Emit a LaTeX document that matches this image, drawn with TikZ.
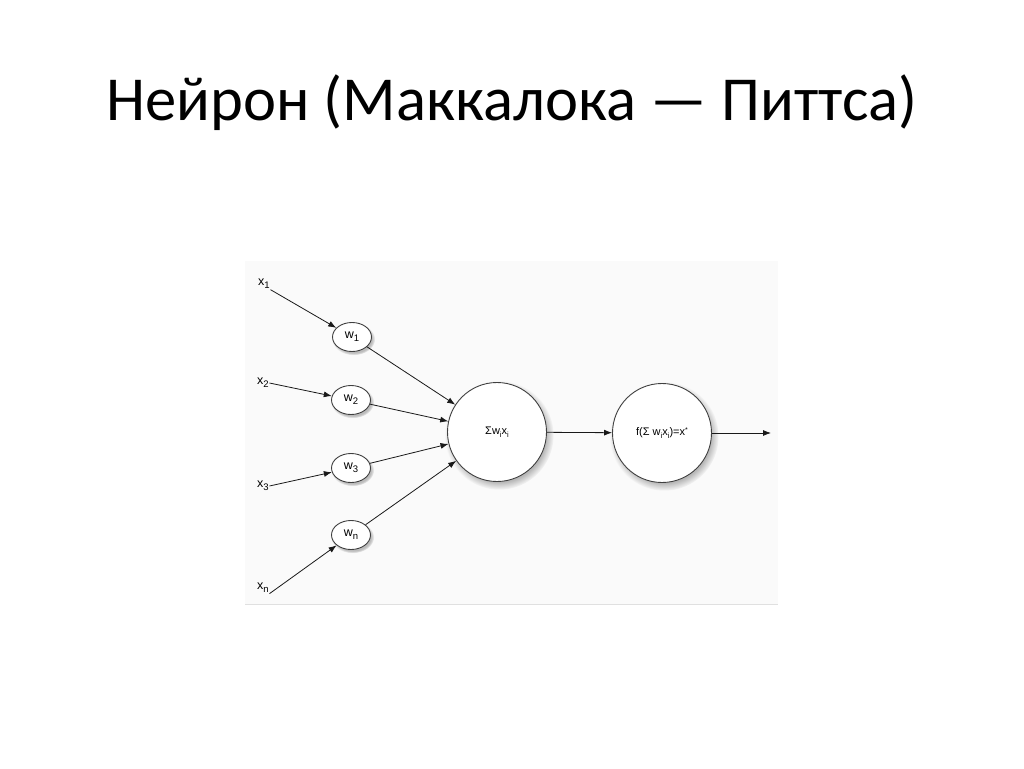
\documentclass[tikz,border=0pt]{standalone}
\usepackage{fontspec}
\setmainfont{Carlito}
\newfontfamily\diagfont{Liberation Sans}
\usetikzlibrary{arrows.meta, shapes.geometric, shadows}
\newcommand\lowidx[1]{\raisebox{-0.5ex}{\fontsize{9.5}{9.5}\selectfont #1}}
\newcommand\lowsmall[1]{\raisebox{-0.45ex}{\fontsize{7.5}{7.5}\selectfont #1}}
\tikzset{
  weightnode/.style={draw=black!75, line width=0.9pt, ellipse, fill=white,
    minimum width=39pt, minimum height=29pt, inner sep=0pt,
    circular drop shadow={shadow xshift=1.5pt, shadow yshift=-2pt, opacity=0.5},
    font=\diagfont\fontsize{12.5}{12.5}\selectfont},
  unitnode/.style={draw=black!75, line width=0.9pt, circle, fill=white,
    minimum size=99pt, inner sep=0pt,
    circular drop shadow={shadow xshift=2pt, shadow yshift=-3pt, opacity=0.55},
    font=\diagfont\fontsize{11}{11}\selectfont},
  inlabel/.style={inner sep=0.5pt, font=\diagfont\fontsize{12.5}{12.5}\selectfont},
  signal/.style={-{Latex[length=8pt,width=6pt]}, draw=black!90, line width=0.8pt},
}
\begin{document}
\begin{tikzpicture}[x=1pt, y=-1pt]
\useasboundingbox (0,0) rectangle (1024,768);
\fill[white] (0,0) rectangle (1024,768);
% picture area
\fill[black!2] (245,261) rectangle (778,604);
\draw[black!12, line width=0.8pt] (245,604) -- (778,604);

\node[anchor=base, font=\fontsize{62.6}{70}\selectfont] (title) at (512,120)
  {Нейрон (Маккалока — Питтса)};

% inputs
\node[inlabel] (x1) at (264,284) {x\lowidx{1}};
\node[inlabel] (x2) at (263,383) {x\lowidx{2}};
\node[inlabel] (x3) at (263,486) {x\lowidx{3}};
\node[inlabel] (xn) at (263,588) {x\lowidx{n}};

% weights
\node[weightnode] (w1) at (352,337) {w\lowidx{1}};
\node[weightnode] (w2) at (351,400) {w\lowidx{2}};
\node[weightnode] (w3) at (351,468) {w\lowidx{3}};
\node[weightnode] (wn) at (351,535) {w\lowidx{n}};

% summation and activation
\node[unitnode] (sum) at (497,432) {Σw\lowsmall{i}x\lowsmall{i}};
\node[unitnode] (act) at (662,433) {f(Σ w\lowsmall{i}x\lowsmall{i})=x\raisebox{0.6ex}{\fontsize{7}{7}\selectfont *}};
\coordinate (out) at (771,433);

\draw[signal] (x1.south east) -- (w1);
\draw[signal] (x2.east) -- (w2);
\draw[signal] (x3.east) -- (w3);
\draw[signal] (xn.south east) -- (wn);
\draw[signal] (w1) -- (sum);
\draw[signal] (w2) -- (sum);
\draw[signal] (w3) -- (sum);
\draw[signal] (wn) -- (sum);
\draw[signal] (sum) -- (act);
\draw[signal] (act) -- (out);
\end{tikzpicture}
\end{document}
